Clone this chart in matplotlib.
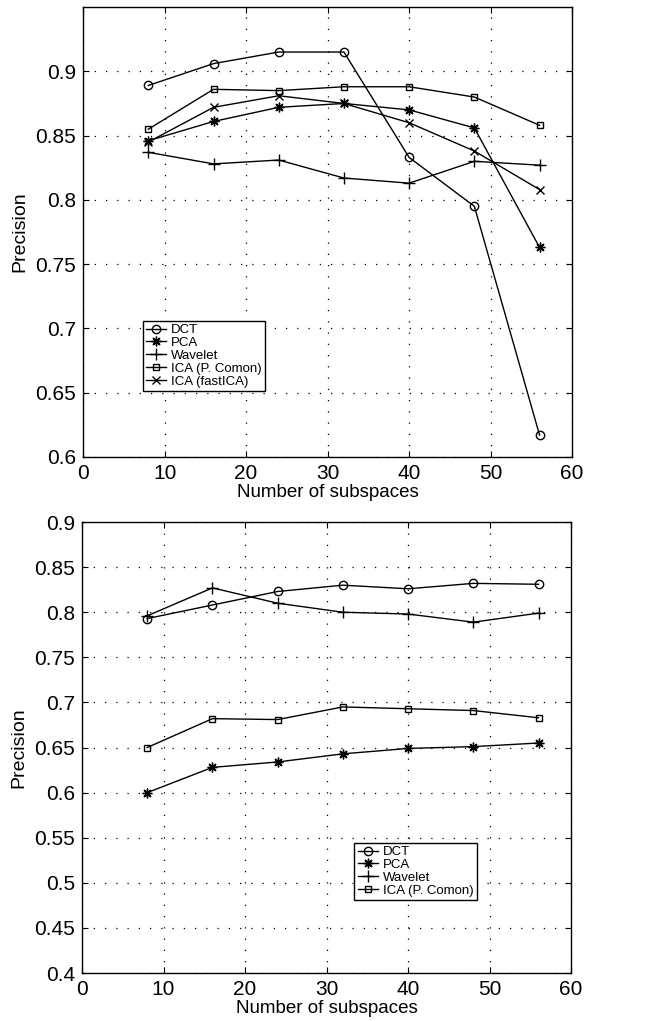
import matplotlib
matplotlib.use('Agg')
import matplotlib.pyplot as plt

plt.rc('font', family=['Liberation Sans', 'DejaVu Sans'])

# number of subspaces
subspaces = [8, 16, 24, 32, 40, 48, 56]

# top panel
dct_top = [0.889, 0.906, 0.915, 0.915, 0.833, 0.795, 0.617]
pca_top = [0.846, 0.861, 0.872, 0.875, 0.870, 0.856, 0.763]
wav_top = [0.837, 0.828, 0.831, 0.817, 0.813, 0.830, 0.827]
ica_top = [0.855, 0.886, 0.885, 0.888, 0.888, 0.880, 0.858]
fica_top = [0.845, 0.872, 0.881, 0.875, 0.860, 0.838, 0.808]

# bottom panel
dct_bot = [0.793, 0.808, 0.823, 0.830, 0.826, 0.832, 0.831]
pca_bot = [0.600, 0.628, 0.634, 0.643, 0.649, 0.651, 0.655]
wav_bot = [0.796, 0.827, 0.810, 0.800, 0.798, 0.789, 0.799]
ica_bot = [0.650, 0.682, 0.681, 0.695, 0.693, 0.691, 0.683]

labels = ['DCT', 'PCA', 'Wavelet', 'ICA (P. Comon)', 'ICA (fastICA)']
markers = ['o', (8, 2, 0), '+', 's', 'x']
msizes = [6, 7, 8, 5, 6]


def style_axes(ax, ylim, yticks):
    ax.set_xlim(0, 60)
    ax.set_ylim(*ylim)
    ax.set_xticks(range(0, 61, 10))
    ax.set_yticks(yticks)
    ax.set_yticklabels([('%g' % t) for t in yticks])
    ax.grid(True, color='k', linestyle=(0, (1, 8)), linewidth=0.9)
    ax.tick_params(direction='in', top=True, right=True, length=4, labelsize=15, pad=5)
    ax.set_xlabel('Number of subspaces', fontsize=13.5, labelpad=1)
    ax.set_ylabel('Precision', fontsize=14, labelpad=5)
    for s in ax.spines.values():
        s.set_linewidth(1.0)


def draw(ax, series, labs, marks, sizes):
    for vals, lab, m, ms in zip(series, labs, marks, sizes):
        ax.plot(subspaces, vals, color='k', linewidth=1.0, marker=m, markersize=ms,
                markerfacecolor='none', markeredgecolor='k', markeredgewidth=1.0, label=lab)


fig = plt.figure(figsize=(6.70, 10.21), dpi=100)

ax1 = fig.add_axes([0.124, 0.5524, 0.730, 0.4407])
draw(ax1, [dct_top, pca_top, wav_top, ica_top, fica_top], labels, markers, msizes)
style_axes(ax1, (0.6, 0.95), [0.6, 0.65, 0.7, 0.75, 0.8, 0.85, 0.9])
leg1 = ax1.legend(loc='upper left', bbox_to_anchor=(0.122, 0.303), borderaxespad=0,
                  fontsize=9.5, handlelength=1.5, handletextpad=0.4, labelspacing=0.05,
                  borderpad=0.25, fancybox=False, edgecolor='k', framealpha=1)
leg1.get_frame().set_linewidth(1.0)

ax2 = fig.add_axes([0.1224, 0.047, 0.730, 0.4417])
draw(ax2, [dct_bot, pca_bot, wav_bot, ica_bot], labels[:4], markers[:4], msizes[:4])
style_axes(ax2, (0.4, 0.9), [0.4, 0.45, 0.5, 0.55, 0.6, 0.65, 0.7, 0.75, 0.8, 0.85, 0.9])
leg2 = ax2.legend(loc='upper left', bbox_to_anchor=(0.557, 0.289), borderaxespad=0,
                  fontsize=9.5, handlelength=1.5, handletextpad=0.4, labelspacing=0.05,
                  borderpad=0.25, fancybox=False, edgecolor='k', framealpha=1)
leg2.get_frame().set_linewidth(1.0)

plt.savefig('out.png', dpi=100)
